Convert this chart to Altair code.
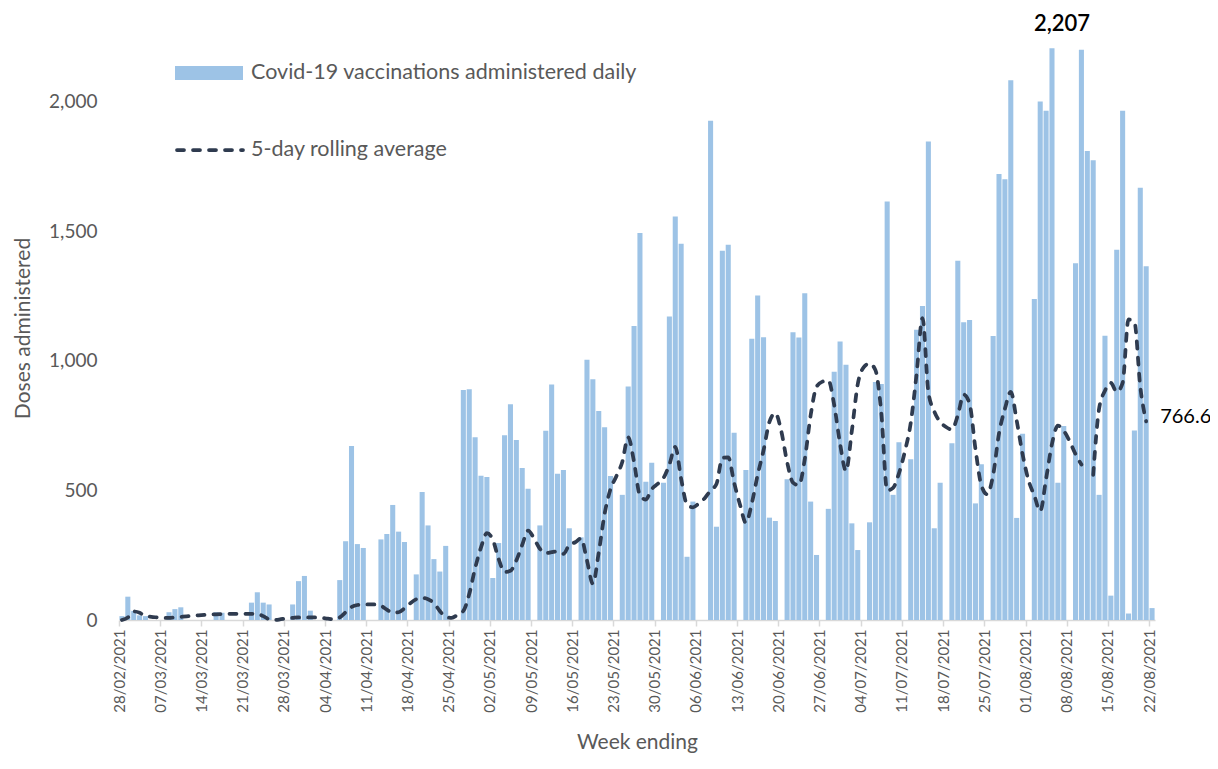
import altair as alt
import pandas as pd

# Daily doses, one value per day starting 28/02/2021 (Sunday)
daily_doses = [
    15, 90, 35, 18, 15, 0, 0,
    0, 30, 42, 49, 0, 0, 0,
    0, 0, 30, 28, 0, 0, 0,
    0, 67, 107, 67, 60, 0, 0,
    0, 60, 150, 170, 36, 0, 0,
    0, 0, 154, 304, 672, 293, 278,
    0, 0, 311, 332, 444, 341, 301,
    0, 176, 494, 365, 235, 187, 286,
    0, 0, 888, 891, 705, 557, 552,
    162, 297, 713, 833, 695, 587, 507,
    0, 365, 730, 909, 564, 579, 354,
    0, 319, 1004, 929, 807, 744, 556,
    0, 483, 901, 1135, 1494, 534, 607,
    0, 530, 1171, 1557, 1452, 244, 457,
    0, 0, 1927, 360, 1425, 1448, 723,
    0, 579, 1085, 1252, 1091, 395, 382,
    0, 543, 1111, 1090, 1261, 457, 251,
    0, 429, 958, 1075, 985, 373, 270,
    0, 377, 919, 911, 1615, 483, 686,
    0, 620, 1120, 1212, 1847, 354, 530,
    0, 682, 1386, 1149, 1158, 450, 601,
    0, 1096, 1721, 1701, 2083, 394, 719,
    0, 1239, 2001, 1965, 2207, 530, 749,
    0, 1377, 2201, 1810, 1774, 483, 1097,
    94, 1429, 1965, 25, 731, 1668, 1365,
    46,
]

# 5-day rolling average (None = gap in line)
rolling_avg = [
    0, 10, 33, 28, 15, 12, 10,
    8, 8, 10, 12, 14, 16, 18,
    20, 22, 22, 23, 24, 24, 24,
    24, 24, 23, 15, 3, 0, 3,
    6, 8, 10, 10, 10, 10, 8,
    5, 3, 10, 30, 50, 58, 60,
    60, 60, 55, 40, 28, 30, 45,
    65, 80, 85, 80, 65, 35, 12,
    8, 20, 35, 100, 200, 280, 335,
    310, 235, 185, 190, 230, 290, 345,
    315, 275, 258, 262, 265, 255, 290,
    300, 315, 230, 140, 260, 410, 505,
    555, 610, 705, 610, 480, 465, 505,
    525, 548, 600, 668, 545, 445, 435,
    450, 470, 500, 525, 625, 628, 530,
    445, 375, 450, 560, 655, 765, 798,
    730, 610, 530, 520, 620, 790, 900,
    920, 925, 830, 680, 575, 730, 910,
    975, 990, 965, 800, 500, 510, 566,
    650, 760, 950, 1165, 880, 805, 765,
    745, 735, 790, 870, 835, 660, 520,
    485, 560, 720, 815, 880, 770, 640,
    540, 480, 420, 545, 680, 750, 730,
    690, 640, 600, None, 560, 815, 885,
    915, 880, 915, 1160, 1150, 900, 766.6,
]

tick_labels = [
    "28/02/2021", "07/03/2021", "14/03/2021", "21/03/2021", "28/03/2021",
    "04/04/2021", "11/04/2021", "18/04/2021", "25/04/2021", "02/05/2021",
    "09/05/2021", "16/05/2021", "23/05/2021", "30/05/2021", "06/06/2021",
    "13/06/2021", "20/06/2021", "27/06/2021", "04/07/2021", "11/07/2021",
    "18/07/2021", "25/07/2021", "01/08/2021", "08/08/2021", "15/08/2021",
    "22/08/2021",
]

BAR_COLOR = "#9DC3E6"
LINE_COLOR = "#2F3B4F"
GREY = "#595959"
FONT = "Lato"

start = pd.Timestamp("2021-02-28")
bars_df = pd.DataFrame({
    "day": list(range(len(daily_doses))),
    "date": [(start + pd.Timedelta(days=i)).strftime("%d/%m/%Y") for i in range(len(daily_doses))],
    "doses": daily_doses,
})

# split line into segments at gaps
seg = 0
rows = []
for i, v in enumerate(rolling_avg):
    if v is None:
        seg += 1
        continue
    rows.append({"day": i, "avg": v, "seg": seg})
line_df = pd.DataFrame(rows)

n_days = len(daily_doses)
label_expr = "[" + ",".join("'%s'" % t for t in tick_labels) + "][round(datum.value / 7)]"

x_scale = alt.Scale(domain=[0, n_days], nice=False, zero=False)
y_scale = alt.Scale(domain=[0, 2250], nice=False)

x_axis = alt.Axis(
    values=[7 * i for i in range(len(tick_labels))],
    labelExpr=label_expr,
    labelAngle=-90,
    labelFontSize=15,
    labelColor=GREY,
    labelPadding=3,
    labelOverlap=False,
    labelFlush=False,
    tickSize=6,
    tickColor="#D9D9D9",
    tickWidth=1.5,
    domainColor="#D9D9D9",
    domainWidth=1.5,
    grid=False,
    title="Week ending",
    titleFontSize=21,
    titleFontWeight="normal",
    titleColor=GREY,
    titleBaseline="bottom",
    titleY=132,
)

y_axis = alt.Axis(
    values=[0, 500, 1000, 1500, 2000],
    format=",.0f",
    labelFontSize=19,
    labelColor=GREY,
    labelPadding=22,
    ticks=False,
    domain=False,
    grid=False,
    title="Doses administered",
    titleFontSize=21,
    titleFontWeight="normal",
    titleColor=GREY,
    titleAngle=270,
    titleBaseline="bottom",
    titleAlign="center",
    titleX=-86,
    titleY=291,
)

base_bars = alt.Chart(bars_df).transform_calculate(
    x0="datum.day + 0.07", x1="datum.day + 0.93", xc="datum.day + 0.5"
)

bars = base_bars.mark_rect(color=BAR_COLOR).encode(
    x=alt.X("x0:Q", scale=x_scale, axis=x_axis),
    x2="x1:Q",
    y=alt.Y("doses:Q", scale=y_scale, axis=y_axis),
    y2=alt.datum(0),
)

max_label = base_bars.transform_joinaggregate(
    maxd="max(doses)"
).transform_filter("datum.doses == datum.maxd").mark_text(
    baseline="bottom", dx=10, dy=-12, fontSize=22, fontWeight=600, color="black", font=FONT
).encode(
    x=alt.X("xc:Q", scale=x_scale),
    y=alt.Y("doses:Q", scale=y_scale),
    text=alt.Text("doses:Q", format=",.0f"),
)

base_line = alt.Chart(line_df).transform_calculate(xc="datum.day + 0.5")

line = base_line.mark_line(
    color=LINE_COLOR, strokeWidth=3.75, strokeDash=[7, 9], strokeCap="round",
    interpolate="monotone",
).encode(
    x=alt.X("xc:Q", scale=x_scale),
    y=alt.Y("avg:Q", scale=y_scale),
    detail="seg:N",
)

end_label = base_line.transform_joinaggregate(
    lastday="max(day)"
).transform_filter("datum.day == datum.lastday").mark_text(
    align="left", baseline="middle", dx=14, dy=-4, fontSize=20, color="black", font=FONT
).encode(
    x=alt.X("xc:Q", scale=x_scale),
    y=alt.Y("avg:Q", scale=y_scale),
    text=alt.Text("avg:Q", format=".1f"),
)

legend_items = pd.DataFrame({
    "item": ["Covid-19 vaccinations administered daily", "5-day rolling average"],
})

leg_rect = alt.Chart(legend_items.iloc[:1]).mark_rect(color=BAR_COLOR).encode(
    x=alt.value(56), x2=alt.value(124), y=alt.value(29), y2=alt.value(43)
)
leg_line = alt.Chart(legend_items.iloc[1:]).mark_rule(
    color=LINE_COLOR, strokeWidth=3.75, strokeDash=[7, 9], strokeCap="round"
).encode(
    x=alt.value(58), x2=alt.value(124), y=alt.value(113)
)
leg_text1 = alt.Chart(legend_items.iloc[:1]).mark_text(
    align="left", baseline="middle", fontSize=21.5, color=GREY, font=FONT
).encode(x=alt.value(132), y=alt.value(36), text="item:N")
leg_text2 = alt.Chart(legend_items.iloc[1:]).mark_text(
    align="left", baseline="middle", fontSize=21.5, color=GREY, font=FONT
).encode(x=alt.value(132), y=alt.value(113), text="item:N")

chart = alt.layer(
    bars, line, max_label, end_label, leg_rect, leg_line, leg_text1, leg_text2
).properties(
    width=1036,
    height=583,
    autosize=alt.AutoSizeParams(type="none"),
    padding={"left": 111, "top": 29, "right": 55, "bottom": 133},
).configure(
    font=FONT,
).configure_view(
    stroke=None,
)

chart.save("out.html", embed_options={"renderer": "svg", "actions": False})
